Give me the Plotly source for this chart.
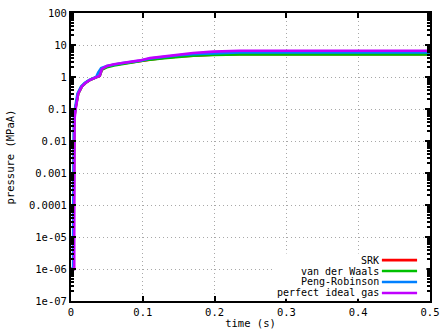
import plotly.graph_objects as go

# ---- data (time in s, pressure in MPaA) ----
series_names = ["SRK", "van der Waals", "Peng-Robinson", "perfect ideal gas"]
series_colors = ["#ff0000", "#00c000", "#0080ff", "#c000ff"]

t_srk = [0, 0.0035, 0.0035, 0.0045, 0.006, 0.010, 0.015, 0.020, 0.026, 0.032, 0.036, 0.040, 0.043, 0.050, 0.060, 0.070, 0.080, 0.096, 0.110, 0.130, 0.150, 0.170, 0.198, 0.235, 0.300, 0.400, 0.500]
p_srk = [1e-6, 1e-6, 1e-5, 0.05, 0.1, 0.3, 0.5, 0.65, 0.8, 0.9, 1.0, 1.1, 1.7, 2.1, 2.4, 2.6, 2.8, 3.1, 3.6, 4.0, 4.4, 4.7, 5.0, 5.2, 5.2, 5.2, 5.2]

t_vdw = [0, 0.0035, 0.0035, 0.0045, 0.006, 0.010, 0.015, 0.020, 0.026, 0.032, 0.036, 0.040, 0.043, 0.050, 0.060, 0.070, 0.080, 0.096, 0.110, 0.130, 0.150, 0.170, 0.198, 0.235, 0.300, 0.400, 0.500]
p_vdw = [1e-6, 1e-6, 1e-5, 0.05, 0.1, 0.3, 0.5, 0.65, 0.8, 0.9, 1.0, 1.1, 1.7, 2.0, 2.3, 2.5, 2.7, 3.0, 3.5, 3.9, 4.3, 4.6, 4.9, 5.1, 5.1, 5.1, 5.1]

t_pr = [0, 0.003, 0.003, 0.004, 0.0055, 0.009, 0.014, 0.019, 0.025, 0.031, 0.035, 0.038, 0.042, 0.050, 0.060, 0.070, 0.080, 0.096, 0.110, 0.130, 0.150, 0.170, 0.198, 0.235, 0.300, 0.400, 0.500]
p_pr = [1e-6, 1e-6, 1e-5, 0.05, 0.1, 0.3, 0.5, 0.65, 0.8, 0.9, 1.0, 1.4, 1.9, 2.2, 2.5, 2.7, 2.9, 3.2, 3.8, 4.3, 4.8, 5.2, 5.6, 5.9, 5.9, 5.9, 5.9]

t_ideal = [0, 0.0045, 0.0045, 0.005, 0.0065, 0.010, 0.015, 0.020, 0.026, 0.032, 0.036, 0.040, 0.043, 0.050, 0.060, 0.070, 0.080, 0.096, 0.110, 0.130, 0.150, 0.170, 0.198, 0.235, 0.300, 0.400, 0.500]
p_ideal = [1e-6, 1e-6, 1e-5, 0.05, 0.1, 0.3, 0.5, 0.65, 0.8, 0.9, 1.0, 1.1, 1.8, 2.2, 2.5, 2.7, 3.0, 3.3, 3.9, 4.4, 5.0, 5.6, 6.2, 6.6, 6.6, 6.6, 6.6]

series_t = [t_srk, t_vdw, t_pr, t_ideal]
series_p = [p_srk, p_vdw, p_pr, p_ideal]

x_ticks = [0, 0.1, 0.2, 0.3, 0.4, 0.5]
x_ticktext = ["0", "0.1", "0.2", "0.3", "0.4", "0.5"]
y_ticks = [1e-7, 1e-6, 1e-5, 1e-4, 1e-3, 1e-2, 1e-1, 1, 10, 100]
y_ticktext = ["1e-07", "1e-06", "1e-05", "0.0001", "0.001", "0.01", "0.1", "1", "10", "100"]

FONT = "DejaVu Sans Mono"
FS = 10.5
KEY_FS = 10

fig = go.Figure()
for name, color, t, p in zip(series_names, series_colors, series_t, series_p):
    fig.add_trace(go.Scatter(x=t, y=p, mode="lines", name=name,
                             line=dict(color=color, width=2.6), showlegend=False))

# opaque key box (covers the grid like gnuplot's key)
fig.add_shape(type="rect", xref="paper", yref="paper", x0=0.565, x1=0.99, y0=0.008, y1=0.165,
              fillcolor="white", line=dict(width=0), layer="above")

# manual gnuplot-style key (text right-aligned, sample line to the right)
key_y = [0.142, 0.104, 0.066, 0.028]
for name, color, ky in zip(series_names, series_colors, key_y):
    fig.add_annotation(x=0.86, y=ky, xref="paper", yref="paper", text=name,
                       showarrow=False, xanchor="right", yanchor="middle", borderpad=0,
                       font=dict(family=FONT, size=KEY_FS, color="black"))
    fig.add_shape(type="line", xref="paper", yref="paper",
                  x0=0.866, x1=0.964, y0=ky, y1=ky,
                  line=dict(color=color, width=2.6), layer="above")

minor_vals = [m * 10 ** e for e in range(-7, 2) for m in range(2, 10)]

grid_style = dict(showgrid=True, gridcolor="#a8a8a8", griddash="1px,3px", gridwidth=1)

fig.update_xaxes(range=[0, 0.5], tickvals=x_ticks, ticktext=x_ticktext,
                 ticks="inside", ticklen=5, tickwidth=1.5, tickcolor="black",
                 showline=True, linecolor="black", linewidth=2, mirror="ticks",
                 zeroline=False, automargin=False, **grid_style,
                 title=dict(text="time (s)", font=dict(family=FONT, size=FS), standoff=3),
                 tickfont=dict(family=FONT, size=FS, color="black"))
fig.update_yaxes(type="log", range=[-7, 2], tickvals=y_ticks, ticktext=y_ticktext,
                 ticks="inside", ticklen=5, tickwidth=1.5, tickcolor="black",
                 minor=dict(tickvals=minor_vals, ticks="inside", ticklen=3, tickcolor="black", showgrid=False),
                 showline=True, linecolor="black", linewidth=2, mirror="ticks",
                 zeroline=False, automargin=False, **grid_style,
                 title=dict(text="pressure (MPaA)", font=dict(family=FONT, size=FS), standoff=12),
                 tickfont=dict(family=FONT, size=FS, color="black"))

fig.update_layout(width=448, height=336,
                  margin=dict(l=71, r=18, t=13, b=35),
                  paper_bgcolor="white", plot_bgcolor="white",
                  font=dict(family=FONT, size=FS, color="black"))

fig.write_html("out.html")
